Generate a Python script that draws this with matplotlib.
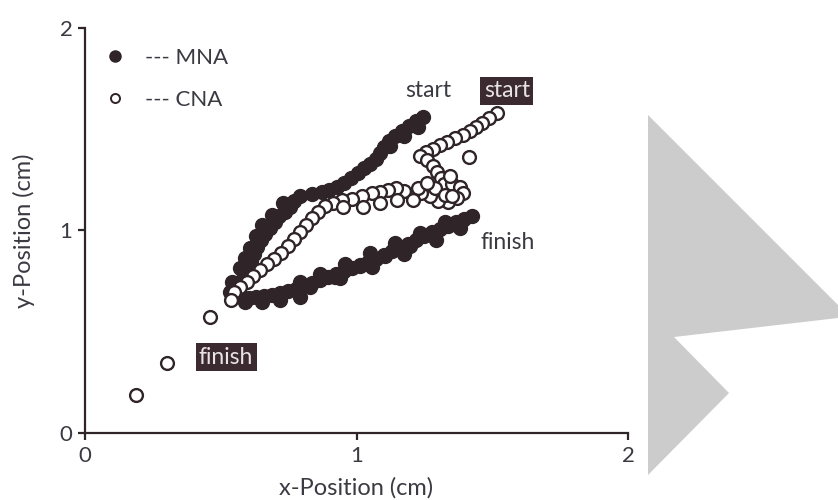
import matplotlib
matplotlib.use("Agg")
import matplotlib.pyplot as plt
from matplotlib.patches import Polygon
from matplotlib.lines import Line2D

plt.rcParams['font.family'] = ['Lato', 'DejaVu Sans']

INK = '#2f2428'
TXT = '#3a3a42'

# MNA trajectory (filled markers), from start to finish, plus the band's edges
mna_x = [1.245, 1.219, 1.193, 1.168, 1.142, 1.120, 1.101, 1.087, 1.072, 1.050,
         1.028, 1.006, 0.980, 0.954, 0.928, 0.899, 0.873, 0.836, 0.792, 0.770,
         0.755, 0.737, 0.715, 0.700, 0.681, 0.663, 0.648, 0.634, 0.622, 0.611,
         0.600, 0.589, 0.575, 0.560, 0.556, 0.578, 0.604, 0.630, 0.659, 0.689,
         0.718, 0.748, 0.777, 0.807, 0.836, 0.866, 0.895, 0.924, 0.954, 0.983,
         1.013, 1.042, 1.072, 1.101, 1.131, 1.160, 1.190, 1.219, 1.249, 1.278,
         1.308, 1.337, 1.366, 1.396, 1.425,
         1.227, 1.175, 1.123, 0.729, 0.689, 0.652, 0.630, 0.608, 0.589, 0.571,
         0.541, 0.534, 0.589, 0.652, 0.718, 0.792, 0.939, 1.057, 1.175, 1.293,
         1.381,
         0.792, 0.866, 0.958, 1.050, 1.142, 1.234, 1.326,
         0.829, 0.921, 1.013, 1.105, 1.197, 1.289, 1.381]
mna_y = [1.560, 1.541, 1.516, 1.491, 1.467, 1.442, 1.412, 1.383, 1.353, 1.328,
         1.309, 1.284, 1.259, 1.235, 1.215, 1.200, 1.190, 1.180, 1.170, 1.146,
         1.116, 1.091, 1.072, 1.042, 1.012, 0.983, 0.953, 0.919, 0.884, 0.849,
         0.815, 0.780, 0.751, 0.721, 0.686, 0.672, 0.667, 0.672, 0.677, 0.681,
         0.691, 0.701, 0.711, 0.726, 0.741, 0.756, 0.770, 0.785, 0.800, 0.815,
         0.830, 0.844, 0.859, 0.879, 0.899, 0.914, 0.933, 0.953, 0.973, 0.993,
         1.007, 1.022, 1.042, 1.057, 1.072,
         1.511, 1.467, 1.417, 1.136, 1.077, 1.027, 0.973, 0.914, 0.864, 0.815,
         0.746, 0.696, 0.647, 0.647, 0.657, 0.672, 0.765, 0.820, 0.884, 0.953,
         1.012,
         0.744, 0.785, 0.836, 0.887, 0.938, 0.990, 1.041,
         0.720, 0.771, 0.823, 0.874, 0.925, 0.976, 1.027]

# CNA trajectory (open markers), from start to finish
cna_x = [1.517, 1.488, 1.462, 1.440, 1.418, 1.392, 1.363, 1.333, 1.308, 1.282,
         1.256, 1.234, 1.260, 1.282, 1.297, 1.311, 1.322, 1.352, 1.381, 1.392,
         1.370, 1.337, 1.300, 1.271, 1.238, 1.204, 1.175, 1.145, 1.116, 1.087,
         1.057, 1.020, 0.983, 0.947, 0.913, 0.884, 0.858, 0.836, 0.814, 0.792,
         0.770, 0.748, 0.722, 0.696, 0.670, 0.645, 0.619, 0.597, 0.571, 0.549,
         0.538, 0.460, 0.302, 0.188,
         1.414, 1.344, 1.226, 1.289, 1.326, 1.260, 1.352,
         1.024, 1.087, 1.149, 1.208, 0.950]
cna_y = [1.580, 1.556, 1.531, 1.511, 1.491, 1.472, 1.457, 1.437, 1.422, 1.402,
         1.388, 1.368, 1.348, 1.319, 1.289, 1.259, 1.230, 1.230, 1.215, 1.185,
         1.160, 1.141, 1.146, 1.170, 1.185, 1.175, 1.195, 1.210, 1.200, 1.190,
         1.185, 1.170, 1.156, 1.151, 1.136, 1.121, 1.091, 1.062, 1.027, 0.993,
         0.958, 0.923, 0.889, 0.859, 0.835, 0.805, 0.775, 0.746, 0.721, 0.696,
         0.657, 0.573, 0.346, 0.188,
         1.363, 1.269, 1.210, 1.210, 1.175, 1.235, 1.170,
         1.116, 1.136, 1.151, 1.151, 1.116]

x_ticks = [0, 1, 2]
y_ticks = [0, 1, 2]

fig = plt.figure(figsize=(8.38, 5.0), dpi=100)
ax = fig.add_axes([85 / 838, 1 - 433 / 500, (628 - 85) / 838, (433 - 28) / 500])

ax.scatter(mna_x, mna_y, s=100, color=INK, edgecolors=INK, linewidths=1.0, zorder=3)
ax.scatter(cna_x, cna_y, s=85, facecolors='white', edgecolors=INK, linewidths=1.7, zorder=4)

ax.set_xlim(0, 2)
ax.set_ylim(0, 2)
ax.set_xticks(x_ticks)
ax.set_yticks(y_ticks)
ax.set_xticklabels([str(v) for v in x_ticks])
ax.set_yticklabels([str(v) for v in y_ticks])
for side in ('top', 'right'):
    ax.spines[side].set_visible(False)
for side in ('left', 'bottom'):
    ax.spines[side].set_linewidth(1.6)
    ax.spines[side].set_color(INK)
ax.tick_params(direction='out', length=5, width=1.6, color=INK,
               labelsize=16, labelcolor=TXT, pad=4)
ax.set_xlabel('x-Position (cm)', fontsize=17, color=TXT, labelpad=8)
ax.set_ylabel('y-Position (cm)', fontsize=17, color=TXT, labelpad=18)

# annotations
ax.text(1.263, 1.69, 'start', fontsize=16.5, color=TXT, ha='center', va='center')
ax.text(1.554, 1.69, 'start', fontsize=16.5, color='#e8e4e6', ha='center', va='center',
        bbox=dict(boxstyle='square,pad=0.15', facecolor='#3b2a30', edgecolor='none'))
ax.text(1.558, 0.943, 'finish', fontsize=16.5, color=TXT, ha='center', va='center')
ax.text(0.52, 0.375, 'finish', fontsize=16.5, color='#e8e4e6', ha='center', va='center',
        bbox=dict(boxstyle='square,pad=0.15', facecolor='#3b2a30', edgecolor='none'))

handles = [
    Line2D([], [], linestyle='none', marker='o', markersize=8,
           markerfacecolor=INK, markeredgecolor=INK),
    Line2D([], [], linestyle='none', marker='o', markersize=6.5,
           markerfacecolor='white', markeredgecolor=INK, markeredgewidth=1.4),
]
ax.legend(handles, ['--- MNA', '--- CNA'], loc='upper left',
          bbox_to_anchor=(-0.012, 1.0), frameon=False, fontsize=16,
          labelcolor=TXT, labelspacing=1.0, handletextpad=0.6, handlelength=1.5)

# grey arrow shape on the right of the page
arrow_px = [(648, 115), (838, 305), (838, 318), (674, 337), (729, 393), (648, 475)]
fig.add_artist(Polygon([(px / 838, 1 - py / 500) for px, py in arrow_px],
                       closed=True, transform=fig.transFigure,
                       facecolor='#cccccc', edgecolor='none'))

fig.savefig('out.png', dpi=100)
